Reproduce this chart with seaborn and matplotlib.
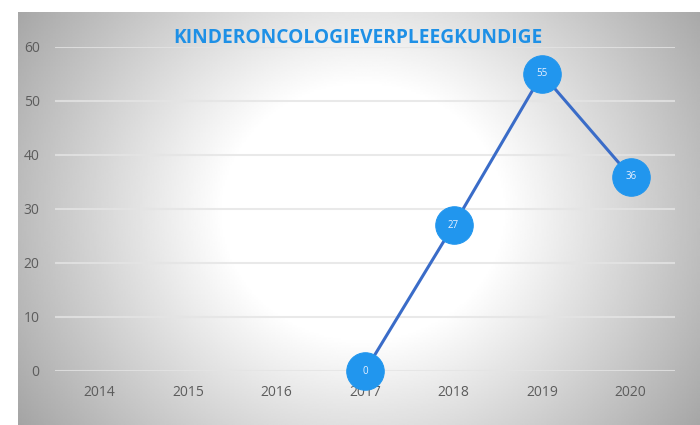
import numpy as np
import pandas as pd
import matplotlib
matplotlib.use("Agg")
import matplotlib.pyplot as plt
import seaborn as sns

# Data
jaren = ["2014", "2015", "2016", "2017", "2018", "2019", "2020"]
aantallen = [np.nan, np.nan, np.nan, 0, 27, 55, 36]
titel = "KINDERONCOLOGIEVERPLEEGKUNDIGE"

df = pd.DataFrame({"jaar": jaren, "aantal": aantallen})
df["pos"] = range(len(jaren))

sns.set_theme(style="white")
plt.rcParams["font.family"] = ["Open Sans", "DejaVu Sans"]

fig = plt.figure(figsize=(7, 4.25), dpi=100)
fig.patch.set_facecolor("white")

# Achtergrond: radiaal verloop (wit in het midden, grijs aan de randen)
bg = fig.add_axes([18 / 700, 0, 682 / 700, 413 / 425])
bg.set_axis_off()
xx, yy = np.meshgrid(np.linspace(0, 682, 400), np.linspace(0, 413, 250))
d = np.sqrt((xx - 345) ** 2 + ((yy - 200) * 1.1) ** 2)
t = np.clip((d - 140) / 280, 0, 1)
grijs = 1 - t * 0.36
bg.imshow(grijs, cmap="gray", vmin=0, vmax=1, aspect="auto",
          extent=[0, 1, 0, 1], interpolation="bilinear")

ax = fig.add_axes([55 / 700, 54 / 425, 620 / 700, 324 / 425])
ax.patch.set_alpha(0)

ax.set_xlim(-0.5, 6.5)
ax.set_ylim(0, 60)
ax.set_yticks(range(0, 61, 10))
ax.set_xticks(range(len(jaren)))
ax.set_xticklabels(jaren)
for s in ax.spines.values():
    s.set_visible(False)
ax.grid(axis="y", color="#e4e4e4", linewidth=1.5, alpha=0.8)
ax.set_axisbelow(True)
ax.tick_params(length=0, labelsize=10, labelcolor="#5c5c5c")
ax.tick_params(axis="y", pad=11)
ax.tick_params(axis="x", pad=10)

sns.lineplot(data=df, x="pos", y="aantal", ax=ax, color="#3a6cc8",
             linewidth=2.2, marker="o", markersize=27,
             markerfacecolor="#2196ee", markeredgecolor="#2196ee",
             clip_on=False, zorder=3)
ax.set_xlabel("")
ax.set_ylabel("")

for p, v in zip(df["pos"], df["aantal"]):
    if not np.isnan(v):
        ax.text(p, v, f"{int(v)}", color="#e8f0ff", fontsize=7,
                ha="center", va="center", zorder=4)

fig.text(358 / 700, 1 - 38 / 425, titel, color="#1e90e6", fontsize=13.8,
         fontweight="bold", ha="center", va="center")

fig.savefig("out.png", dpi=100)
